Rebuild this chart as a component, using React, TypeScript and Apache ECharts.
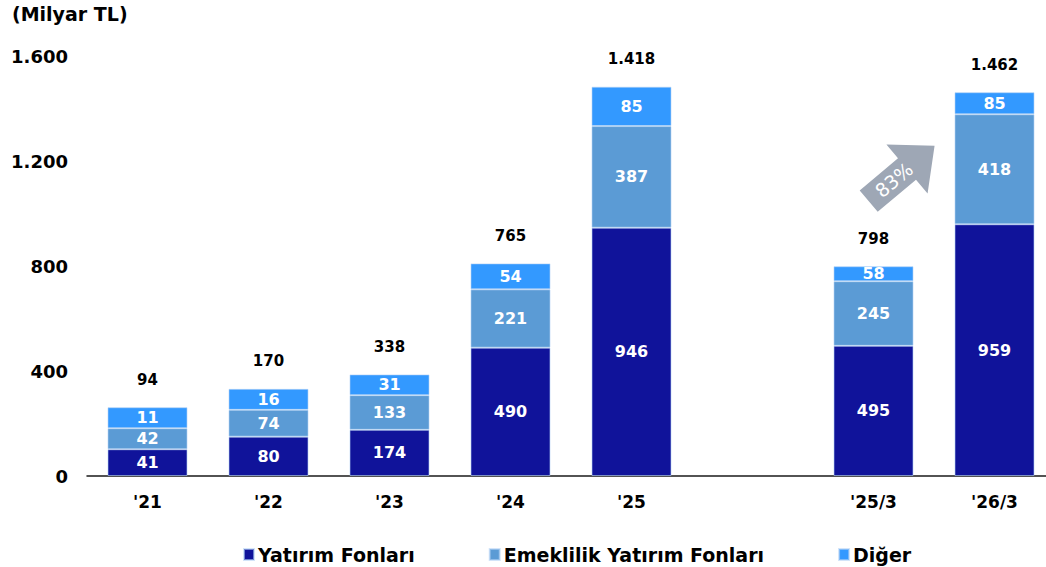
import React, { useEffect, useRef } from "react";
import * as echarts from "echarts";

// Categories (empty slot separates annual and quarterly bars)
const categories = ["'21", "'22", "'23", "'24", "'25", "", "'25/3", "'26/3"];

// Printed values
const yatirimValues = [41, 80, 174, 490, 946, null, 495, 959];
const emeklilikValues = [42, 74, 133, 221, 387, null, 245, 418];
const digerValues = [11, 16, 31, 54, 85, null, 58, 85];
const totalValues = [94, 170, 338, 765, 1418, null, 798, 1462];

// Segment heights as drawn in the picture (small segments are enlarged there)
const yatirimHeights = [102, 150, 176, 489, 946, null, 496, 959];
const emeklilikHeights = [80, 102, 132, 222, 387, null, 246, 419];
const digerHeights = [80, 80, 79, 99, 150, null, 57, 84];

const yTicks = [0, 400, 800, 1200, 1600];

const FONT = "DejaVu Sans";

function fmt(v: number): string {
  return String(v).replace(/\B(?=(\d{3})+(?!\d))/g, ".");
}

export default function App() {
  const ref = useRef<HTMLDivElement>(null);

  useEffect(() => {
    document.body.style.margin = "0";
    document.body.style.overflow = "hidden";
    if (!ref.current) return;
    const chart = echarts.init(ref.current, null, { renderer: "svg" });

    const segLabel = (vals: (number | null)[]) => ({
      show: true,
      position: "inside" as const,
      color: "#ffffff",
      fontFamily: FONT,
      fontWeight: "bold" as const,
      fontSize: 16,
      formatter: (p: any) => (vals[p.dataIndex] == null ? "" : fmt(vals[p.dataIndex] as number)),
    });

    const mkData = (arr: (number | null)[]) => arr.map((v) => (v == null ? "-" : v));

    const option: any = {
      animation: false,
      grid: { left: 87, top: 56, width: 968, height: 420, containLabel: false },
      legend: {
        left: 238,
        top: 540,
        itemGap: 74,
        itemWidth: 10,
        itemHeight: 11,
        icon: "rect",
        textStyle: { fontFamily: FONT, fontWeight: "bold", fontSize: 19, color: "#000", padding: [0, 0, 0, -1] },
        data: ["Yatırım Fonları", "Emeklilik Yatırım Fonları", "Diğer"],
      },
      xAxis: {
        type: "category",
        data: categories,
        axisTick: { show: false },
        axisLine: { lineStyle: { color: "#1a1a1a", width: 1.5 } },
        axisLabel: { fontFamily: FONT, fontWeight: "bold", fontSize: 17, color: "#000", margin: 17 },
      },
      yAxis: {
        type: "value",
        min: 0,
        max: yTicks[yTicks.length - 1],
        interval: 400,
        splitLine: { show: false },
        axisLine: { show: false },
        axisTick: { show: false },
        axisLabel: {
          fontFamily: FONT,
          fontWeight: "bold",
          fontSize: 18,
          color: "#000",
          margin: 19,
          formatter: (v: number) => fmt(v),
        },
      },
      series: [
        {
          name: "Yatırım Fonları",
          type: "bar",
          stack: "t",
          barWidth: 80,
          data: mkData(yatirimHeights),
          itemStyle: { color: "#10139a", borderColor: "rgba(180,210,245,0.6)", borderWidth: 1 },
          label: segLabel(yatirimValues),
        },
        {
          name: "Emeklilik Yatırım Fonları",
          type: "bar",
          stack: "t",
          barWidth: 80,
          data: mkData(emeklilikHeights),
          itemStyle: { color: "#5b9bd5", borderColor: "rgba(180,210,245,0.6)", borderWidth: 1 },
          label: segLabel(emeklilikValues),
        },
        {
          name: "Diğer",
          type: "bar",
          stack: "t",
          barWidth: 80,
          data: mkData(digerHeights),
          itemStyle: { color: "#3399ff", borderColor: "rgba(180,210,245,0.6)", borderWidth: 1 },
          label: segLabel(digerValues),
        },
        {
          name: "Toplam",
          type: "bar",
          stack: "t",
          barWidth: 80,
          data: totalValues.map((v) => (v == null ? "-" : 0)),
          itemStyle: { color: "transparent" },
          label: {
            show: true,
            position: "top",
            distance: 20,
            color: "#000",
            fontFamily: FONT,
            fontWeight: "bold",
            fontSize: 15,
            formatter: (p: any) => (totalValues[p.dataIndex] == null ? "" : fmt(totalValues[p.dataIndex] as number)),
          },
        },
      ],
      graphic: [
        {
          type: "text",
          left: 12,
          top: 4,
          style: {
            text: "(Milyar TL)",
            fill: "#000",
            font: `bold 19px "${FONT}"`,
          },
        },
        {
          type: "group",
          x: 907,
          y: 169,
          rotation: (40 * Math.PI) / 180,
          children: [
            {
              type: "polygon",
              shape: {
                points: [
                  [-50, -14],
                  [0, -14],
                  [0, -32],
                  [36, 0],
                  [0, 32],
                  [0, 14],
                  [-50, 14],
                ],
              },
              style: { fill: "#9ea7b5" },
            },
            {
              type: "text",
              x: -17,
              y: 0,
              style: {
                text: "83%",
                fill: "#ffffff",
                font: `19px "${FONT}"`,
                align: "center",
                verticalAlign: "middle",
                textAlign: "center",
                textVerticalAlign: "middle",
              },
            },
          ],
        },
      ],
    };

    chart.setOption(option);
    return () => chart.dispose();
  }, []);

  return (
    <div style={{ width: 1046, height: 567, overflow: "hidden", position: "relative" }}>
      <div ref={ref} style={{ width: 1060, height: 567 }} />
    </div>
  );
}
